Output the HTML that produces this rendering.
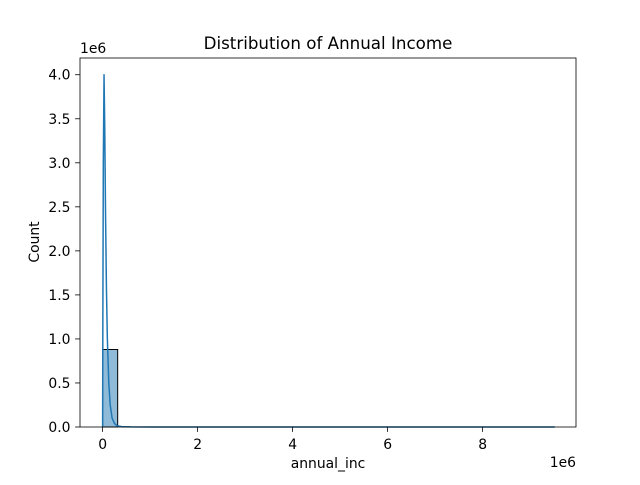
<!DOCTYPE html>
<html><head><meta charset="utf-8"><style>
body{margin:0;background:#fff;}
svg text{font-family:"DejaVu Sans","Liberation Sans",sans-serif;fill:#000;}
</style></head><body>
<svg id="chart" width="640" height="480" xmlns="http://www.w3.org/2000/svg">
<rect width="640" height="480" fill="#fff"/>
<g id="plot"></g>
</svg>
<script>
const binCounts = [0.88,0.0015,0.0004,0.0002,0.0001,0.0001,0,0,0,0,0,0,0,0,0,0,0,0,0,0,0,0,0,0,0,0,0,0,0,0.00001];
const binStart = 0;
const binEnd = 9.52;
const kdeX = [0,0.005,0.015,0.03,0.045,0.06,0.08,0.1,0.13,0.16,0.2,0.25,0.3,0.4,0.6,1,2,4,6,8,9.52];
const kdeY = [0,1.2,3.0,4.0,3.4,2.5,1.6,1.0,0.5,0.25,0.1,0.04,0.015,0.004,0.001,0.0003,0.0001,0,0,0,0];
const xTicks = [0,2,4,6,8];
const yTicks = [0,0.5,1.0,1.5,2.0,2.5,3.0,3.5,4.0];

const L=80,R=576,T=58,B=427;
const xMin=-0.476, xMax=9.966, yMin=0, yMax=4.19;
const xs=v=>L+(v-xMin)/(xMax-xMin)*(R-L);
const ys=v=>B-(v-yMin)/(yMax-yMin)*(B-T);
const NS='http://www.w3.org/2000/svg';
const g=document.getElementById('plot');
function mk(tag,attrs,parent){const e=document.createElementNS(NS,tag);for(const k in attrs)e.setAttribute(k,attrs[k]);(parent||g).appendChild(e);return e;}

const w=(binEnd-binStart)/binCounts.length;
binCounts.forEach((c,i)=>{
  const x0=xs(binStart+i*w),x1=xs(binStart+(i+1)*w);
  const r=mk('rect',{x:x0,y:ys(c),width:x1-x0,height:Math.max(0,B-ys(c)),fill:'rgba(31,119,180,0.5)',stroke:'#000','stroke-width':c>0.01?1:0});
  
  
});
let d=kdeX.map((x,i)=>(i?'L':'M')+xs(x).toFixed(2)+','+ys(kdeY[i]).toFixed(2)).join('');
const kde=mk('path',{d:d,fill:'none',stroke:'#1f77b4','stroke-width':1.5,'stroke-linejoin':'round'});



const frame=mk('rect',{x:L,y:T,width:R-L,height:B-T,fill:'none',stroke:'#000','stroke-width':0.8});



xTicks.forEach(t=>{
  const x=xs(t);
  mk('line',{x1:x,x2:x,y1:B,y2:B+4.9,stroke:'#000','stroke-width':0.8});
  const tx=mk('text',{x:x,y:B+22,'text-anchor':'middle','font-size':13.9});
  tx.textContent=t;
  
  
});
yTicks.forEach(t=>{
  const y=ys(t);
  mk('line',{x1:L-4.9,x2:L,y1:y,y2:y,stroke:'#000','stroke-width':0.8});
  const tx=mk('text',{x:L-9.5,y:y+5,'text-anchor':'end','font-size':13.9});
  tx.textContent=t.toFixed(1);
  
  
});
function txt(s,a,name){const e=mk('text',a);e.textContent=s;return e;}
txt('1e6',{x:80,y:53,'font-size':13.9},'y-offset-label');
txt('1e6',{x:576,y:467,'text-anchor':'end','font-size':13.9},'x-offset-label');
txt('annual_inc',{x:328,y:468,'text-anchor':'middle','font-size':13.9},'x-axis-title');
txt('Count',{x:0,y:0,'text-anchor':'middle','font-size':13.9,transform:'translate(39,242) rotate(-90)'},'y-axis-title');
txt('Distribution of Annual Income',{x:328,y:49,'text-anchor':'middle','font-size':16.7},'chart-title');
</script>
</body></html>
